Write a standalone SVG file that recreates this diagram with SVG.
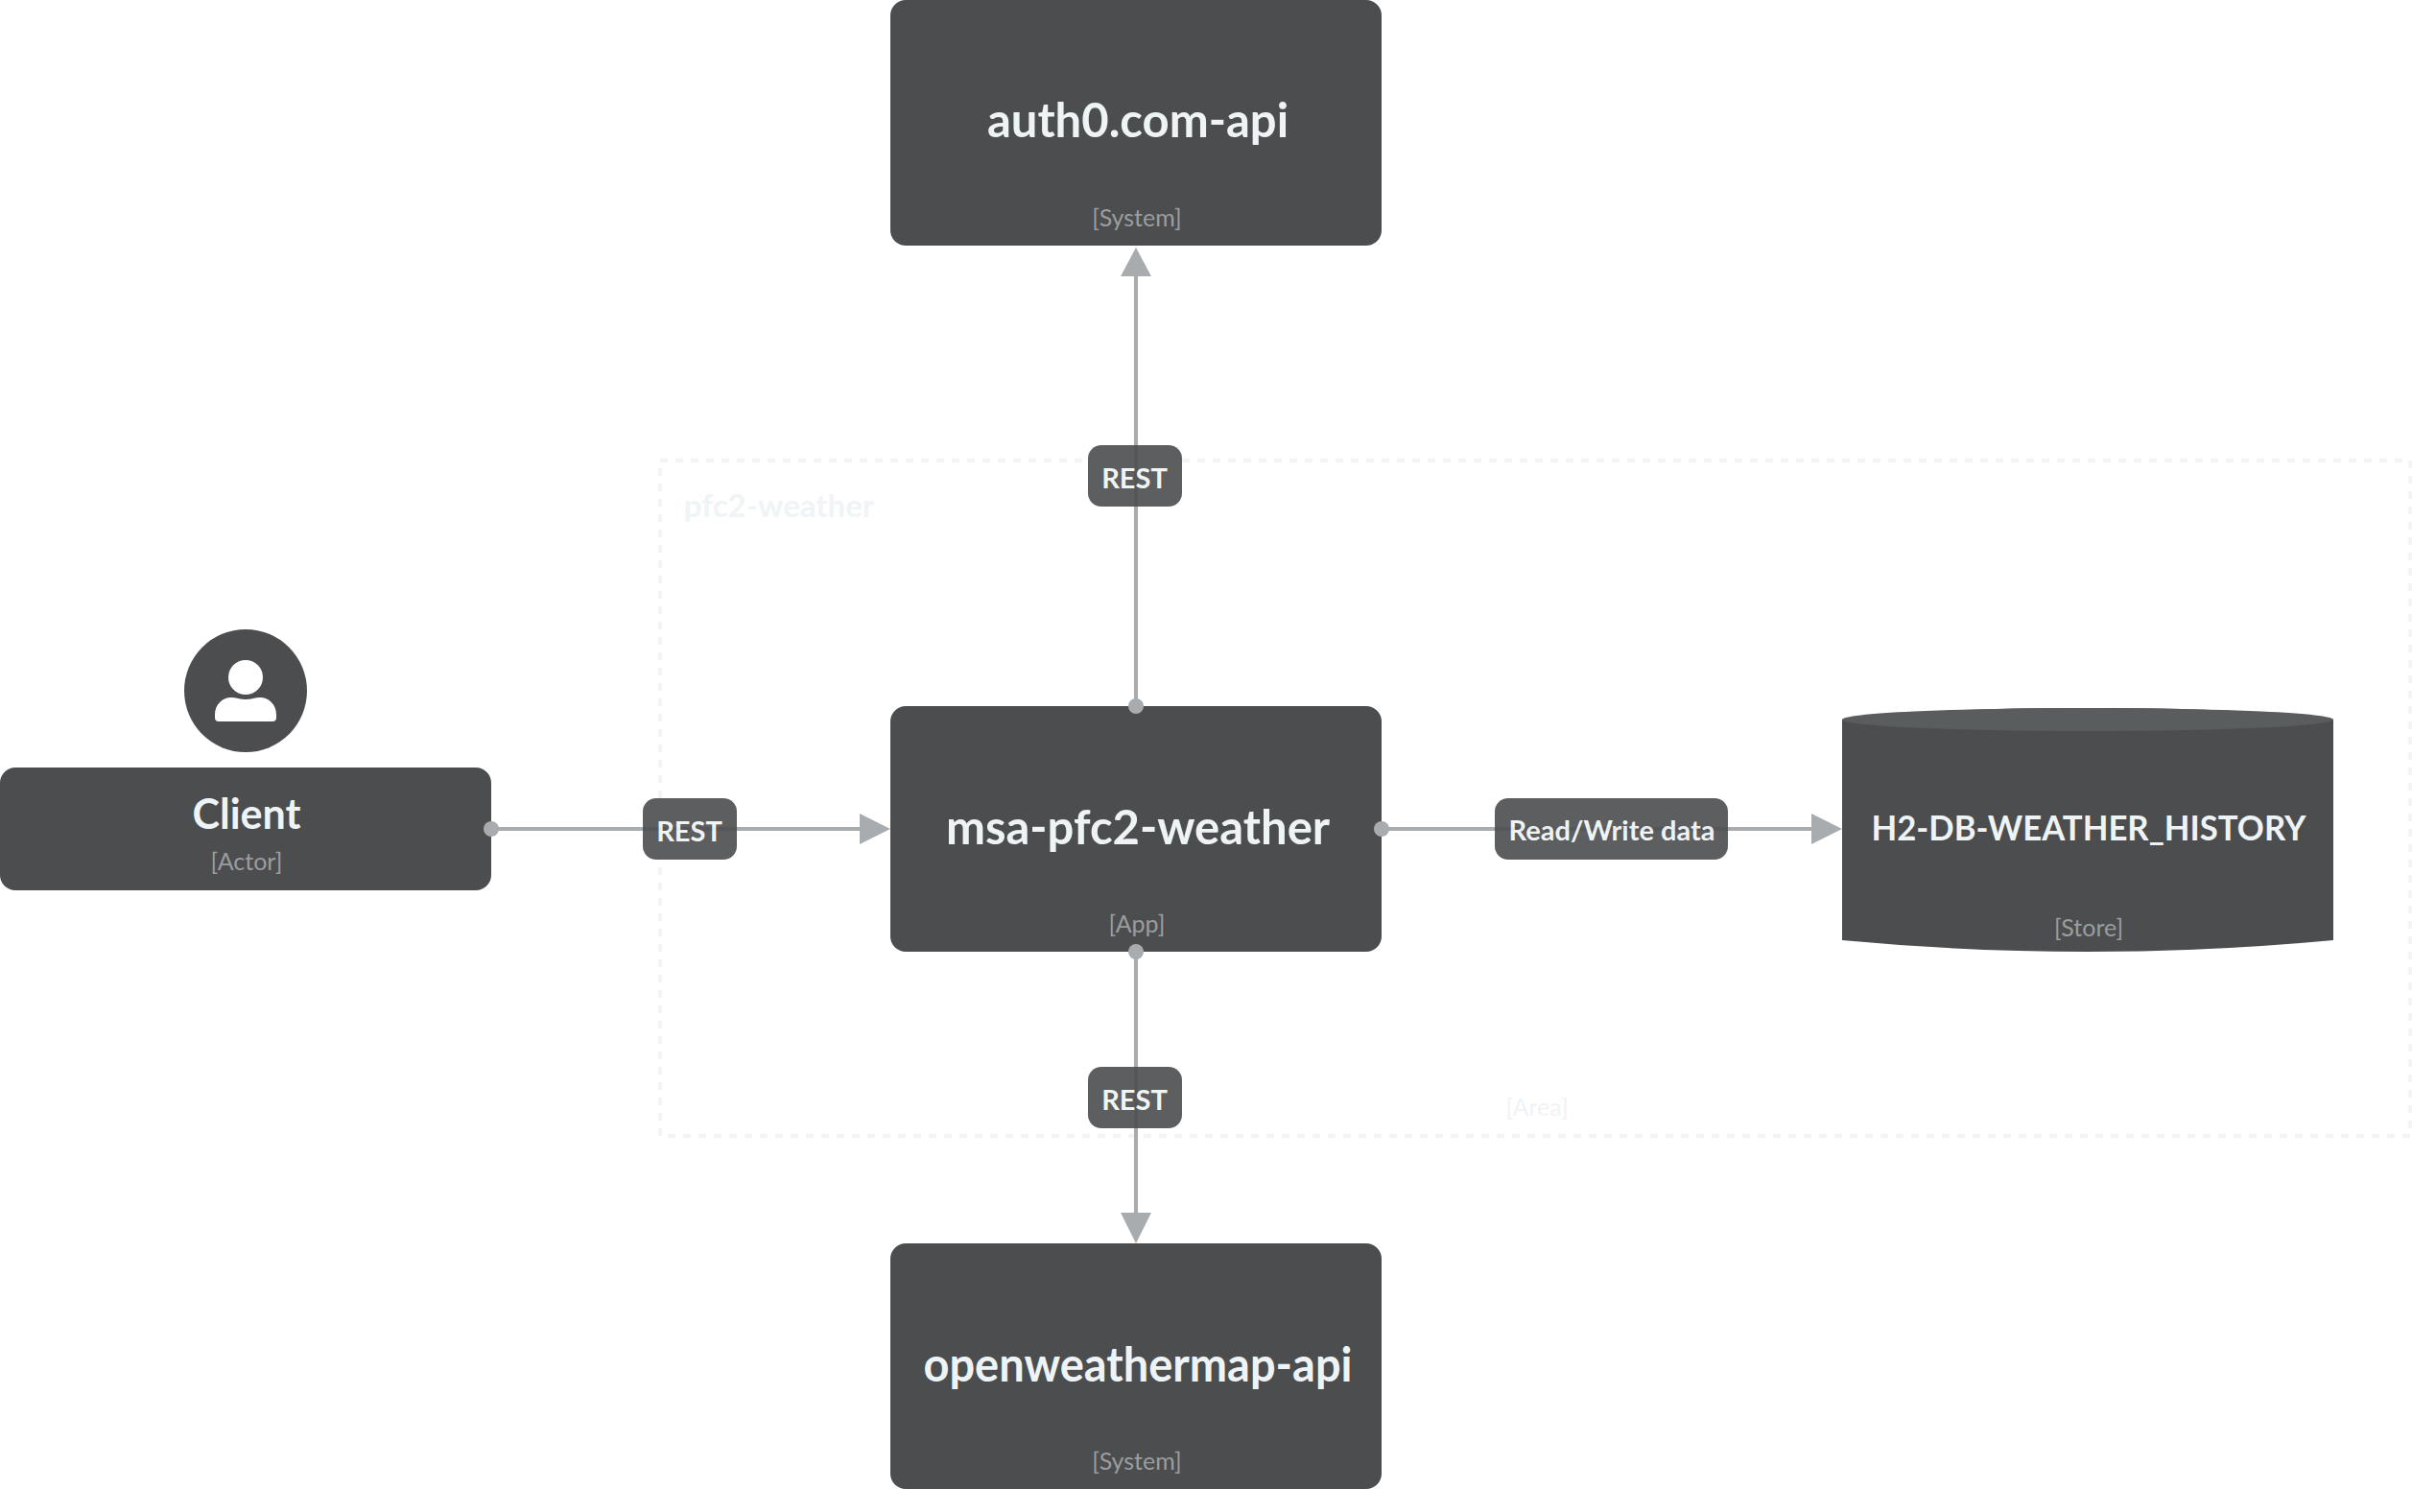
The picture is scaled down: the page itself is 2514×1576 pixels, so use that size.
<svg xmlns="http://www.w3.org/2000/svg" width="2514" height="1576" viewBox="0 0 2514 1576">
<style>
text{font-family:Lato,"Open Sans","Liberation Sans",sans-serif;text-anchor:middle}
.box{fill:#4c4d4f}
.title{fill:#eef3f5;font-size:49px;font-weight:700}
.type{fill:#9a9d9f;font-size:25px}
.conn{stroke:#a9acae;stroke-width:4;fill:none}
.dot{fill:#a9acae}
.head{fill:#a9acae}
.lab{opacity:.9}
.lab rect{fill:#4c4d4f}
.lab text{fill:#eef3f5;font-size:29px;font-weight:700}
</style>
<rect width="2514" height="1576" fill="#ffffff"/>
<g id="area-pfc2-weather">
<rect x="688" y="480" width="1824" height="704" fill="none" stroke="#f2f4f6" stroke-width="4" stroke-dasharray="8 8"/>
<text x="812" y="539" style="font-size:33px;font-weight:700;fill:#eff4f6">pfc2-weather</text>
<text x="1602" y="1163" style="font-size:25px;fill:#f0f3f5">[Area]</text>
</g>
<g id="node-auth0">
<rect class="box" x="928" y="0" width="512" height="256" rx="16"/>
<text class="title" x="1186" y="143">auth0.com-api</text>
<text class="type" x="1185" y="236">[System]</text>
</g>
<g id="node-client">
<circle class="box" cx="256" cy="720" r="64"/>
<circle cx="256" cy="706" r="18" fill="#ffffff"/>
<path d="M224 748V745C224 734 232 727 241 727C246 727 250 729 256 729C262 729 266 727 271 727C280 727 288 734 288 745V748Q288 752 284 752H228Q224 752 224 748Z" fill="#ffffff"/>
<rect class="box" x="0" y="800" width="512" height="128" rx="16"/>
<text class="title" x="257" y="864" style="font-size:43px">Client</text>
<text class="type" x="257" y="907">[Actor]</text>
</g>
<g id="node-app">
<rect class="box" x="928" y="736" width="512" height="256" rx="16"/>
<text class="title" x="1186" y="880">msa-pfc2-weather</text>
<text class="type" x="1185" y="972">[App]</text>
</g>
<g id="node-openweathermap">
<rect class="box" x="928" y="1296" width="512" height="256" rx="16"/>
<text class="title" x="1186" y="1440" textLength="447" lengthAdjust="spacingAndGlyphs">openweathermap-api</text>
<text class="type" x="1185" y="1532">[System]</text>
</g>
<g id="node-store">
<path class="box" d="M1920 750C1990 734 2362 734 2432 750V980Q2176 1004 1920 980Z"/>
<ellipse cx="2176" cy="750" rx="256" ry="12" fill="#5a5d5d"/>
<text x="2177" y="876" textLength="453" lengthAdjust="spacingAndGlyphs" style="font-size:36px;font-weight:700;fill:#eef3f5">H2-DB-WEATHER_HISTORY</text>
<text class="type" x="2177" y="976">[Store]</text>
</g>
<g id="connectors">
<line class="conn" x1="512" y1="864" x2="898" y2="864"/>
<circle class="dot" cx="512" cy="864" r="8"/>
<path class="head" d="M928 864L896 848V880Z"/>
<line class="conn" x1="1440" y1="864" x2="1890" y2="864"/>
<circle class="dot" cx="1440" cy="864" r="8"/>
<path class="head" d="M1920 864L1888 848V880Z"/>
<line class="conn" x1="1184" y1="736" x2="1184" y2="286"/>
<circle class="dot" cx="1184" cy="736" r="8"/>
<path class="head" d="M1184 258L1168 288H1200Z"/>
<line class="conn" x1="1184" y1="992" x2="1184" y2="1266"/>
<circle class="dot" cx="1184" cy="992" r="8"/>
<path class="head" d="M1184 1296L1168 1264H1200Z"/>
<g class="lab"><rect x="670" y="832" width="98" height="64" rx="14"/><text x="718.500" y="877">REST</text></g>
<g class="lab"><rect x="1558" y="832" width="243" height="64" rx="14"/><text x="1680" y="876">Read/Write data</text></g>
<g class="lab"><rect x="1134" y="464" width="98" height="64" rx="14"/><text x="1182.500" y="509">REST</text></g>
<g class="lab"><rect x="1134" y="1112" width="98" height="64" rx="14"/><text x="1182.500" y="1157">REST</text></g>
</g>
</svg>
